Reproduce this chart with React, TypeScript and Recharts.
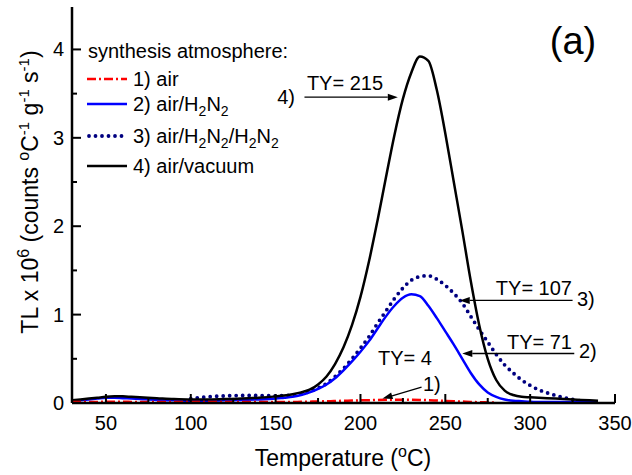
import { LineChart, Line, XAxis, YAxis, ReferenceLine } from 'recharts';

const temps = [
  30, 35, 40, 45, 50, 55, 60, 65, 70, 80, 90, 100, 110, 120, 130, 140, 150,
  155, 160, 165, 170, 175, 180, 185, 190, 195, 200, 205, 210, 215, 220, 225,
  230, 235, 240, 245, 250, 255, 260, 265, 270, 275, 280, 285, 290, 295, 300,
  305, 310, 315, 320, 325, 330, 335, 340,
];

// 1) air
const air = [
  0.01, 0.01, 0.01, 0.012, 0.015, 0.015, 0.015, 0.012, 0.01, 0.01, 0.01, 0.01, 0.01, 0.01, 0.01, 0.01, 0.01,
  0.01, 0.012, 0.013, 0.015, 0.017, 0.02, 0.022, 0.025, 0.027, 0.03, 0.032, 0.035, 0.037, 0.038, 0.038,
  0.037, 0.035, 0.032, 0.028, 0.024, 0.02, 0.016, 0.012, 0.009, 0.007, 0.005, null, null, null, null,
  null, null, null, null, null, null, null, null,
];

// 2) air/H2N2
const airH2N2 = [
  0.02, 0.03, 0.04, 0.05, 0.06, 0.06, 0.055, 0.05, 0.045, 0.035, 0.03, 0.025, 0.025, 0.03, 0.035, 0.04, 0.05,
  0.06, 0.07, 0.09, 0.12, 0.16, 0.21, 0.28, 0.37, 0.47, 0.58, 0.7, 0.84, 0.98, 1.1, 1.19,
  1.23, 1.21, 1.1, 0.96, 0.81, 0.66, 0.5, 0.34, 0.21, 0.12, 0.07, 0.04, 0.025, 0.02, 0.015,
  0.012, 0.01, 0.01, 0.01, 0.01, 0.01, 0.01, 0.01,
];

// 3) air/H2N2/H2N2
const airH2N2H2N2 = [
  null, null, null, null, null, null, null, null, null, null, null, 0.05, 0.07, 0.08, 0.085, 0.085, 0.08,
  0.085, 0.09, 0.1, 0.13, 0.17, 0.22, 0.3, 0.39, 0.5, 0.62, 0.75, 0.9, 1.04, 1.18, 1.3,
  1.39, 1.43, 1.44, 1.4, 1.33, 1.24, 1.13, 0.98, 0.83, 0.69, 0.55, 0.43, 0.34, 0.26, 0.2,
  0.15, 0.115, 0.085, 0.06, 0.04, 0.025, 0.015, 0.01,
];

// 4) air/vacuum
const airVacuum = [
  0.03, 0.04, 0.05, 0.06, 0.07, 0.075, 0.075, 0.07, 0.065, 0.055, 0.045, 0.04, 0.04, 0.045, 0.05, 0.06, 0.075,
  0.085, 0.1, 0.12, 0.15, 0.21, 0.3, 0.44, 0.63, 0.88, 1.2, 1.6, 2.06, 2.55, 3.03, 3.44,
  3.74, 3.92, 3.87, 3.54, 3.05, 2.5, 1.95, 1.38, 0.88, 0.5, 0.26, 0.14, 0.09, 0.07, 0.065,
  0.06, 0.055, 0.05, 0.045, 0.04, 0.035, 0.03, 0.025,
];

const xTicks = [50, 75, 100, 125, 150, 175, 200, 225, 250, 275, 300, 325, 350];
const xLabels = [50, 100, 150, 200, 250, 300, 350];
const yTicks = [0, 0.5, 1, 1.5, 2, 2.5, 3, 3.5, 4];
const yLabels = [0, 1, 2, 3, 4];

const data = temps.map((t, i) => ({
  t,
  air: air[i],
  h2: airH2N2[i],
  h2h2: airH2N2H2N2[i],
  vac: airVacuum[i],
}));

const FONT = "'Liberation Sans', Arial, sans-serif";

const BottomTick = (props: any) => {
  const { x, y, payload } = props;
  const major = xLabels.includes(payload.value);
  return (
    <g>
      <line x1={x} y1={y} x2={x} y2={y - (major ? 9 : 5)} stroke="#000" strokeWidth={2} />
      {major && (
        <text x={x} y={y + 27} textAnchor="middle" fontSize={20} fontFamily={FONT} fill="#000">
          {payload.value}
        </text>
      )}
    </g>
  );
};

const TopTick = (props: any) => {
  const { x, y, payload } = props;
  const major = xLabels.includes(payload.value);
  return <line x1={x} y1={y} x2={x} y2={y + (major ? 9 : 5)} stroke="#000" strokeWidth={2} />;
};

const LeftTick = (props: any) => {
  const { x, y, payload } = props;
  const major = yLabels.includes(payload.value);
  return (
    <g>
      <line x1={x} y1={y} x2={x + (major ? 9 : 5)} y2={y} stroke="#000" strokeWidth={2} />
      {major && (
        <text x={x - 8} y={y + 7} textAnchor="end" fontSize={20} fontFamily={FONT} fill="#000">
          {payload.value}
        </text>
      )}
    </g>
  );
};

const RightTick = (props: any) => {
  const { x, y, payload } = props;
  const major = yLabels.includes(payload.value);
  return <line x1={x} y1={y} x2={x - (major ? 9 : 5)} y2={y} stroke="#000" strokeWidth={2} />;
};

const Arrow = (props: any) => {
  const { x1, y1, x2, y2 } = props;
  const a = Math.atan2(y2 - y1, x2 - x1);
  const len = 10;
  const w = 3.5;
  const bx = x2 - len * Math.cos(a);
  const by = y2 - len * Math.sin(a);
  const px = -Math.sin(a) * w;
  const py = Math.cos(a) * w;
  return (
    <g>
      <line x1={x1} y1={y1} x2={bx} y2={by} stroke="#000" strokeWidth={1.3} />
      <polygon points={`${x2},${y2} ${bx + px},${by + py} ${bx - px},${by - py}`} fill="#000" />
    </g>
  );
};

// text pieces with a baseline offset (o) and optional size (s)
type Seg = { t: string; o?: number; s?: number };
const rich = (segs: Seg[]) =>
  segs.map((g, i) => {
    const prev = i > 0 ? segs[i - 1].o || 0 : 0;
    return (
      <tspan key={i} dy={(g.o || 0) - prev} fontSize={g.s}>
        {g.t}
      </tspan>
    );
  });

const SUP = -9;
const SUB = 5;

export default function App() {
  const axisLine = { stroke: '#000', strokeWidth: 2.5 };
  return (
    <div style={{ position: 'absolute', left: 0, top: 0, width: 632, height: 475, background: '#fff' }}>
      <LineChart width={632} height={475} data={data} margin={{ top: 7, right: 17, left: 0, bottom: 0 }}>
        <XAxis
          dataKey="t"
          type="number"
          domain={[30, 350]}
          ticks={xTicks}
          height={72}
          tickSize={0}
          tickMargin={0}
          tickLine={false}
          axisLine={axisLine}
          tick={BottomTick}
          allowDataOverflow
        />
        <XAxis
          xAxisId="top"
          dataKey="t"
          type="number"
          orientation="top"
          domain={[30, 350]}
          ticks={xTicks}
          height={0}
          tickSize={0}
          tickMargin={0}
          tickLine={false}
          axisLine={axisLine}
          tick={TopTick}
          allowDataOverflow
        />
        <YAxis
          type="number"
          domain={[0, 4.48]}
          ticks={yTicks}
          width={72}
          tickSize={0}
          tickMargin={0}
          tickLine={false}
          axisLine={axisLine}
          tick={LeftTick}
          allowDataOverflow
        />
        <YAxis
          yAxisId="right"
          orientation="right"
          type="number"
          domain={[0, 4.48]}
          ticks={yTicks}
          width={0}
          tickSize={0}
          tickMargin={0}
          tickLine={false}
          axisLine={axisLine}
          tick={RightTick}
          allowDataOverflow
        />
        <Line
          dataKey="h2h2"
          type="monotone"
          stroke="#000080"
          strokeWidth={3.8}
          strokeDasharray="0 6.5"
          strokeLinecap="round"
          dot={false}
          isAnimationActive={false}
        />
        <Line dataKey="h2" type="monotone" stroke="#0000ff" strokeWidth={2.5} dot={false} isAnimationActive={false} />
        <Line dataKey="vac" type="monotone" stroke="#000" strokeWidth={2.5} dot={false} isAnimationActive={false} />
        <Line
          dataKey="air"
          type="monotone"
          stroke="#ff0000"
          strokeWidth={2.5}
          strokeDasharray="9 3 2 3"
          dot={false}
          isAnimationActive={false}
        />
        <ReferenceLine segment={[{ x: 167, y: 3.46 }, { x: 222, y: 3.46 }]} shape={Arrow} />
        <ReferenceLine segment={[{ x: 325, y: 1.16 }, { x: 258.5, y: 1.16 }]} shape={Arrow} />
        <ReferenceLine segment={[{ x: 326, y: 0.56 }, { x: 260, y: 0.56 }]} shape={Arrow} />
        <ReferenceLine segment={[{ x: 236, y: 0.18 }, { x: 213, y: 0.05 }]} shape={Arrow} />
      </LineChart>

      <svg
        width={632}
        height={475}
        style={{ position: 'absolute', left: 0, top: 0, pointerEvents: 'none' }}
        fontFamily={FONT}
        fill="#000"
      >
        {/* axis titles */}
        <text x={343} y={466} textAnchor="middle" fontSize={23}>
          {rich([{ t: 'Temperature (' }, { t: 'o', o: SUP, s: 16 }, { t: 'C)' }])}
        </text>
        <text transform="translate(38,192) rotate(-90)" textAnchor="middle" fontSize={23}>
          {rich([
            { t: 'TL x 10' },
            { t: '6', o: SUP, s: 16 },
            { t: ' (counts ' },
            { t: 'o', o: SUP, s: 16 },
            { t: 'C' },
            { t: '-1', o: SUP, s: 15 },
            { t: ' g' },
            { t: '-1', o: SUP, s: 15 },
            { t: ' s' },
            { t: '-1', o: SUP, s: 15 },
            { t: ')' },
          ])}
        </text>

        {/* panel label */}
        <text x={573} y={54} textAnchor="middle" fontSize={38}>(a)</text>

        {/* legend */}
        <g fontSize={20}>
          <text x={88} y={58}>synthesis atmosphere:</text>
          <line x1={87} y1={79} x2={127} y2={79} stroke="#ff0000" strokeWidth={2.5} strokeDasharray="9 3 2 3" />
          <text x={133} y={86}>1) air</text>
          <line x1={87} y1={104} x2={127} y2={104} stroke="#0000ff" strokeWidth={2.5} />
          <text x={133} y={111}>
            {rich([{ t: '2) air/H' }, { t: '2', o: SUB, s: 14 }, { t: 'N' }, { t: '2', o: SUB, s: 14 }])}
          </text>
          <line
            x1={89}
            y1={136}
            x2={127}
            y2={136}
            stroke="#000080"
            strokeWidth={3.8}
            strokeDasharray="0 6.5"
            strokeLinecap="round"
          />
          <text x={133} y={143}>
            {rich([
              { t: '3) air/H' },
              { t: '2', o: SUB, s: 14 },
              { t: 'N' },
              { t: '2', o: SUB, s: 14 },
              { t: '/H' },
              { t: '2', o: SUB, s: 14 },
              { t: 'N' },
              { t: '2', o: SUB, s: 14 },
            ])}
          </text>
          <line x1={87} y1={166} x2={127} y2={166} stroke="#000" strokeWidth={2.5} />
          <text x={133} y={173}>4) air/vacuum</text>
        </g>

        {/* annotations */}
        <g fontSize={20}>
          <text x={345} y={90} textAnchor="middle">TY= 215</text>
          <text x={295} y={104} textAnchor="end">4)</text>
          <text x={572} y={295} textAnchor="end">TY= 107</text>
          <text x={577} y={306}>3)</text>
          <text x={572} y={349} textAnchor="end">TY= 71</text>
          <text x={579} y={358}>2)</text>
          <text x={405} y={365} textAnchor="middle">TY= 4</text>
          <text x={423} y={391}>1)</text>
        </g>
      </svg>
    </div>
  );
}
